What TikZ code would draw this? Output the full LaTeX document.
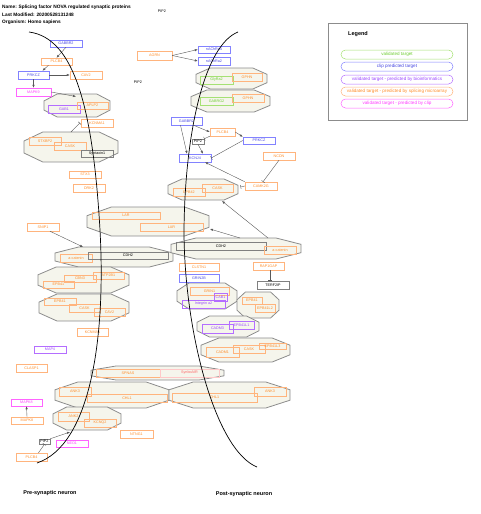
\documentclass[tikz,border=0pt]{standalone}
\usepackage{fontspec}
\setmainfont{Liberation Sans}
\usetikzlibrary{arrows.meta}
\definecolor{ob}{RGB}{255,180,125}
\definecolor{ot}{RGB}{255,140,40}
\definecolor{bb}{RGB}{130,130,255}
\definecolor{bt}{RGB}{70,70,225}
\definecolor{gb}{RGB}{165,225,115}
\definecolor{gt}{RGB}{110,205,50}
\definecolor{pb}{RGB}{180,110,255}
\definecolor{pu}{RGB}{155,70,255}
\definecolor{mb}{RGB}{255,100,255}
\definecolor{mt}{RGB}{255,60,255}
\definecolor{rb}{RGB}{255,200,200}
\definecolor{rt}{RGB}{255,100,100}
\definecolor{grb}{RGB}{128,128,128}
\definecolor{grpfill}{RGB}{245,245,236}
\definecolor{grpline}{RGB}{140,140,140}
\newcommand\gfont{\fontsize{3.7}{4.2}\selectfont}
\newcommand\hfont{\fontsize{4.8}{5.5}\selectfont\bfseries}
\newcommand\bfont{\fontsize{5.5}{6.5}\selectfont\bfseries}
\newcommand{\gn}[7]{%
 \pgfmathsetmacro\Gw{#5-#3}\pgfmathsetmacro\Gh{#6-#4}%
 \pgfmathsetmacro\Gx{(#3+#5)/2}\pgfmathsetmacro\Gy{(#4+#6)/2}%
 \node[#1, minimum width=\Gw pt, minimum height=\Gh pt] (#2) at (\Gx,\Gy) {#7};}
\newcommand{\grp}[5]{%
 \pgfmathsetmacro\Ga{min(0.2*(#4-#2),25)}%
 \pgfmathsetmacro\Gb{0.3*(#5-#3)}%
 \draw[grpst] ({#2+\Ga},#3) -- ({#4-\Ga},#3) -- (#4,{#3+\Gb}) -- (#4,{#5-\Gb}) -- ({#4-\Ga},#5) -- ({#2+\Ga},#5) -- (#2,{#5-\Gb}) -- (#2,{#3+\Gb}) -- cycle;
 \pgfmathsetmacro\Gw{#4-#2}\pgfmathsetmacro\Gh{#5-#3}%
 \pgfmathsetmacro\Gx{(#2+#4)/2}\pgfmathsetmacro\Gy{(#3+#5)/2}%
 \node[inner sep=0pt, minimum width=\Gw pt, minimum height=\Gh pt] (#1) at (\Gx,\Gy) {};}
\begin{document}
\begin{tikzpicture}[x=1pt,y=-1pt,
 gbase/.style={rectangle, inner sep=0pt, font=\gfont, line width=0.45pt},
 og/.style={gbase, draw=ob, text=ot},
 bg/.style={gbase, draw=bb, text=bt},
 grg/.style={gbase, draw=gb, text=gt},
 pg/.style={gbase, draw=pb, text=pu},
 mg/.style={gbase, draw=mb, text=mt},
 rg/.style={gbase, draw=rb, text=rt},
 kg/.style={gbase, draw=grb, text=black},
 grpst/.style={draw=grpline, fill=grpfill, line width=0.8pt},
 conn/.style={draw=black!65, line width=0.4pt},
 arr/.style={conn, -{Latex[length=3pt,width=2.4pt]}},
 tee/.style={conn, -{Bar[width=4pt]}},
 neuron/.style={draw=black, line width=0.7pt},
 legst/.style={rectangle, rounded corners=4.5pt, minimum width=112pt, minimum height=9pt, inner sep=0pt, font=\fontsize{4.6}{5.2}\selectfont, line width=0.5pt},
 hd/.style={font=\hfont, anchor=west, inner sep=0pt}]
\useasboundingbox (0,0) rectangle (480,514);
% header
\node[hd] (hname) at (2,7) {Name: Splicing factor NOVA regulated synaptic proteins};
\node[hd] (hmod) at (2,14.3) {Last Modified: 20200528131248};
\node[hd] (horg) at (2,22.3) {Organism: Homo sapiens};
\node[font=\gfont, inner sep=0pt] (pipt1) at (162,11) {PIP2};
\node[font=\gfont, inner sep=0pt] (pipt2) at (138,82) {PIP2};
% legend
\node[draw=black!45, line width=0.7pt, minimum width=139pt, minimum height=97pt, inner sep=0pt] (legbox) at (397.5,71.5) {};
\node[font=\bfont, inner sep=0pt] (legt) at (358,34) {Legend};
\node[legst, draw=gb, text=gt] (leg1) at (397,54.5) {validated target};
\node[legst, draw=bb, text=bt] (leg2) at (397,66.5) {clip predicted target};
\node[legst, draw=pb, text=pu] (leg3) at (397,79.5) {validated target - predicted by bioinformatics};
\node[legst, draw=ob, text=ot] (leg4) at (397,91.5) {validated target - predicted by splicing microarray};
\node[legst, draw=mb, text=mt] (leg5) at (397,103.5) {validated target - predicted by clip};
% groups
\grp{G1}{44}{94}{110}{117}
\grp{G2}{24}{132}{118}{162}
\grp{G3}{87}{207}{209}{236}
\grp{G4}{55}{247}{173}{267}
\grp{G5}{38}{267}{129}{293}
\grp{G6}{39}{294}{129}{321}
\grp{G7}{91}{366}{224}{380}
\grp{G8}{55}{382}{169}{408}
\grp{G9}{169}{382}{290}{408}
\grp{G10}{53}{407}{121}{430}
\grp{G11}{196}{68}{267}{89}
\grp{G12}{191}{90}{270}{112}
\grp{G13}{168}{179}{238}{200}
\grp{G14}{171}{238}{301}{259}
\grp{G15}{177}{283}{237}{309}
\grp{G16}{237}{292}{279}{318}
\grp{G17}{197}{316}{259}{337}
\grp{G18}{201}{338}{290}{362}
% presynaptic genes
\gn{bg}{gabbr2a}{50}{40}{82}{47}{GABBR2}
\gn{og}{plcb4a}{41}{58}{72}{65}{PLCB4}
\gn{bg}{prkcza}{18}{71}{49}{79}{PRKCZ}
\gn{og}{cav2a}{70}{71}{102}{79}{CAV2}
\gn{mg}{mapk9}{16}{88}{51}{96}{MAPK9}
\gn{pg}{gab1a}{48}{105}{80}{113}{GAB1}
\gn{og}{aplp2}{77}{102}{108}{109}{APLP2}
\gn{og}{kcnma1a}{81}{119}{113}{127}{KCNMA1}
\gn{og}{stxbp}{29}{137}{61}{145}{STXBP2}
\gn{og}{caska}{54}{142}{86}{150}{CASK}
\gn{kg}{syntaxin}{81}{150}{113}{157}{Syntaxin1}
\gn{og}{stx3}{69}{171}{101}{178}{STX3}
\gn{og}{drk2}{73}{184}{105}{192}{DRK2}
\gn{og}{lar1}{92}{212}{160}{219}{LAR}
\gn{og}{lar2}{140}{223}{203}{231}{LAR}
\gn{og}{snip1}{27}{223}{59}{231}{SNIP1}
\gn{og}{acata}{60}{254}{92}{262}{a-catenin}
\gn{kg}{cdh2a}{88}{252}{168}{259}{CDH2}
\gn{og}{cbn3}{64}{275}{96}{282}{CBN3}
\gn{og}{atp2b1}{93}{272}{124}{279}{ATP2B1}
\gn{og}{epb41a}{43}{281}{74}{288}{EPB41}
\gn{og}{epb41b}{44}{298}{76}{305}{EPB41}
\gn{og}{caskb}{69}{304}{100}{312}{CASK}
\gn{og}{cav2b}{94}{308}{125}{316}{CAV2}
\gn{og}{kcnma1b}{77}{328}{108}{336}{KCNMA1}
\gn{pg}{map4}{34}{346}{66}{353}{MAP4}
\gn{og}{clasp1}{16}{364}{47}{372}{CLASP1}
\gn{og}{spnas}{96}{369}{160}{377}{SPNAS}
\gn{rg}{synbo}{160}{369}{219}{377}{SynboAIR}
\gn{og}{ank3a}{59}{387}{91}{396}{ANK3}
\gn{og}{chl1a}{87}{394}{167}{402}{CHL1}
\gn{og}{chl1b}{172}{393}{257}{402}{CHL1}
\gn{og}{ank3b}{254}{387}{286}{396}{ANK3}
\gn{mg}{mapk8}{11}{399}{42}{406}{MAPK8}
\gn{og}{mapk3}{11}{417}{43}{424}{MAPK8}
\gn{og}{ank2}{58}{412}{89}{421}{ANK2}
\gn{og}{kcnq2}{84}{419}{116}{427}{KCNQ2}
\gn{og}{ntng1}{120}{430}{153}{438}{NTNG1}
\gn{kg}{pip2c}{39}{439}{50}{444}{PIP2}
\gn{mg}{neo1}{56}{440}{88}{447}{NEO1}
\gn{og}{plcb4c}{16}{453}{47}{461}{PLCB4}
% postsynaptic genes
\gn{og}{agrn}{137}{51}{172}{60}{AGRN}
\gn{bg}{nachra4}{198}{46}{230}{53}{nAChRa4}
\gn{bg}{nachra2}{198}{57}{230}{65}{nAChRa2}
\gn{grg}{glyra2}{200}{76}{233}{84}{GlyRa2}
\gn{og}{gphna}{232}{73}{262}{81}{GPHN}
\gn{grg}{gabrg2}{200}{97}{233}{105}{GABRG2}
\gn{og}{gphnb}{232}{94}{264}{102}{GPHN}
\gn{bg}{gabbr2b}{171}{117}{202}{125}{GABBR2}
\gn{og}{plcb4b}{210}{128}{235}{136}{PLCB4}
\gn{kg}{pip2b}{192}{139}{204}{144}{PIP2}
\gn{bg}{prkczb}{243}{137}{275}{144}{PRKCZ}
\gn{bg}{kcnj4}{179}{154}{211}{162}{KCNJ4}
\gn{og}{ncdn}{263}{152}{295}{160}{NCDN}
\gn{og}{camk2g}{245}{182}{277}{190}{CAMK2G}
\gn{og}{caskc}{202}{184}{233}{192}{CASK}
\gn{og}{epb42}{173}{188}{205}{196}{EPB42}
\gn{kg}{cdh2b}{176}{242}{266}{250}{CDH2}
\gn{og}{acatb}{264}{246}{296}{254}{a-catenin}
\gn{og}{clstn1}{179}{263}{219}{271}{CLSTN1}
\gn{bg}{grin2b}{179}{274}{219}{282}{GRIN2B}
\gn{og}{rap1gap}{253}{262}{284}{270}{RAP1GAP}
\gn{kg}{terf2ip}{257}{281}{289}{289}{TERF2IP}
\gn{og}{grin1}{190}{287}{229}{295}{GRIN1}
\gn{pg}{cab1}{214}{293}{227}{301}{CAB1}
\gn{pg}{itga2}{182}{300}{225}{308}{Integrin a2}
\gn{og}{epb41c}{242}{297}{262}{304}{EPB41}
\gn{og}{epb41l2}{255}{304}{275}{312}{EPB41L2}
\gn{pg}{epb41l1}{229}{321}{254}{329}{EPB41L1}
\gn{pg}{cadm3}{202}{324}{233}{333}{CADM3}
\gn{og}{cadm1}{206}{347}{239}{357}{CADM1}
\gn{og}{caskd}{233}{345}{265}{353}{CASK}
\gn{og}{epb41l3}{259}{343}{286}{349}{EPB41L3}
% attachment points on groups
\coordinate (g1in) at (76,96.5);
\coordinate (g2top) at (71,132);
\coordinate (g4in) at (83,247);
\coordinate (g10in) at (70,432);
\coordinate (g13e) at (240.5,187);
\coordinate (g13b) at (222,201);
\coordinate (g14a) at (268,238);
\coordinate (g14b) at (240,238);
\coordinate (g3e) at (210,229);
% connectors presynaptic
\draw[arr] (gabbr2a.south) -- (plcb4a.north);
\draw[arr] ([xshift=-8pt]plcb4a.south) -- ([xshift=9pt]prkcza.north);
\draw[arr] (prkcza.east) -- (cav2a.west);
\draw[arr] (prkcza.south) -- (mapk9.north);
\draw[arr] (mapk9.east) -- (g1in);
\draw[tee] (g2top) -- ([xshift=-1pt]kcnma1a.west);
\draw[arr] ([xshift=7pt]snip1.south) -- (g4in);
\draw[arr] (mapk3.north) -- (mapk8.south);
\draw[arr] (pip2c.north east) -- (g10in);
\draw[tee] ([xshift=7pt]plcb4c.north) -- (pip2c.south);
% connectors postsynaptic
\draw[arr] (agrn.east) -- (nachra4.west);
\draw[arr] (agrn.east) -- (nachra2.west);
\draw[arr] ([xshift=-6pt]gabbr2b.south) -- ([xshift=-8pt]kcnj4.north);
\draw[arr] ([xshift=7pt]gabbr2b.south) -- (plcb4b.west);
\draw[tee] (plcb4b.south west) -- (pip2b.north east);
\draw[arr] (pip2b.south) -- ([xshift=8pt]kcnj4.north);
\draw[arr] (plcb4b.east) -- (prkczb.north west);
\draw[tee] (prkczb.west) -- (kcnj4.east);
\draw[tee] (ncdn.south) -- ([xshift=2pt]camk2g.north);
\draw[arr] (camk2g.north west) -- ([xshift=10pt]kcnj4.south);
\draw[tee] (camk2g.west) -- (g13e);
\draw[arr] (g14a) -- (g13b);
\draw[arr] (g14b) -- (g3e);
\draw[tee] ([xshift=1.5pt]rap1gap.south) -- ([xshift=-3pt]terf2ip.north);
% neuron outlines
\draw[neuron] (29,32) .. controls (75,38) and (93,110) .. (100,230) .. controls (106,340) and (90,445) .. (37,463);
\draw[neuron] (238,32) .. controls (205,45) and (185,130) .. (184,230) .. controls (184,330) and (215,450) .. (257,467);
\node[font=\bfont, inner sep=0pt] (pre) at (50,493) {Pre-synaptic neuron};
\node[font=\bfont, inner sep=0pt] (post) at (244,494) {Post-synaptic neuron};
\end{tikzpicture}
\end{document}
